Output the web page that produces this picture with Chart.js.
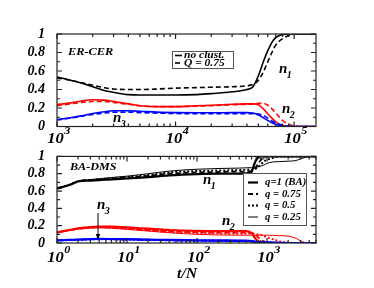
<!DOCTYPE html>
<html><head><meta charset="utf-8">
<script src="https://cdn.jsdelivr.net/npm/chart.js@4/dist/chart.umd.min.js"></script>
<style>
html,body{margin:0;padding:0;background:#fff;}
#wrap{position:relative;width:374px;height:288px;overflow:hidden;}
canvas{position:absolute;left:0;}
#c1{top:0;} #c2{top:144px;}
</style></head><body>
<div id="wrap"><canvas id="c1" width="374" height="144"></canvas><canvas id="c2" width="374" height="144"></canvas></div>
<script>
// ---------- TOP PANEL (ER-CER) ----------
const topT = [1000,1300,1600,2000,2500,3000,4000,5000,7000,10000,15000,20000,30000,40000,45000,50000,55000,60000,65000,70000,80000,90000,100000,120000,150000];
const topN1NoClust = [0.535,0.50,0.47,0.43,0.39,0.37,0.345,0.34,0.34,0.34,0.345,0.355,0.375,0.40,0.43,0.55,0.70,0.82,0.91,0.96,0.995,1.0,1.0,1.0,1.0];
const topN1Q075   = [0.525,0.50,0.475,0.445,0.42,0.405,0.40,0.40,0.405,0.415,0.42,0.425,0.43,0.44,0.455,0.50,0.59,0.70,0.80,0.88,0.95,0.985,1.0,1.0,1.0];
const topN2NoClust = [0.235,0.255,0.275,0.29,0.285,0.27,0.245,0.225,0.215,0.215,0.225,0.23,0.24,0.245,0.245,0.235,0.19,0.135,0.09,0.05,0.012,0,0,0,0];
const topN2Q075   = [0.225,0.245,0.26,0.27,0.27,0.26,0.24,0.225,0.215,0.215,0.22,0.225,0.235,0.24,0.245,0.25,0.25,0.23,0.19,0.145,0.065,0.025,0.005,0,0];
const topN3NoClust = [0.075,0.095,0.115,0.14,0.16,0.17,0.17,0.165,0.155,0.15,0.148,0.148,0.15,0.15,0.145,0.125,0.095,0.065,0.04,0.022,0.006,0,0,0,0];
const topN3Q075   = [0.07,0.09,0.11,0.13,0.145,0.155,0.155,0.15,0.145,0.14,0.138,0.138,0.138,0.138,0.138,0.135,0.12,0.09,0.06,0.035,0.012,0.003,0,0,0];
const topXMin = 1000, topXMax = 153000;
const topXTickVals = [1e3,1e4,1e5];
const topXTickLabels = [['10','3'],['10','4'],['10','5']];
const topSeriesLabels = ['no clust.','Q = 0.75'];

// ---------- BOTTOM PANEL (BA-DMS) ----------
const botT = [1,1.5,2,3,4,6,10,20,40,100,200,400,500,600,650,700,800,900,1000,1200,1500,2000,2500,3000,3500,4000,5000];
const botN1q100 = [0.63,0.67,0.71,0.72,0.725,0.735,0.745,0.76,0.78,0.795,0.80,0.80,0.805,0.82,0.90,0.96,1,1,1,1,1,1,1,1,1,1,1];
const botN1q075 = [0.63,0.67,0.712,0.725,0.732,0.742,0.755,0.775,0.80,0.815,0.82,0.825,0.825,0.83,0.845,0.88,0.95,0.99,1,1,1,1,1,1,1,1,1];
const botN1q050 = [0.63,0.672,0.714,0.728,0.737,0.748,0.762,0.785,0.815,0.832,0.838,0.842,0.845,0.848,0.852,0.86,0.90,0.94,0.96,0.98,1,1,1,1,1,1,1];
const botN1q025 = [0.63,0.673,0.716,0.732,0.742,0.756,0.772,0.80,0.83,0.852,0.86,0.865,0.868,0.87,0.872,0.875,0.885,0.90,0.92,0.935,0.94,0.945,0.95,0.97,0.99,1,1];
const botN2q100 = [0.122,0.15,0.168,0.185,0.19,0.188,0.18,0.165,0.15,0.14,0.138,0.138,0.138,0.115,0.075,0.04,0.005,0,0,0,0,0,0,0,0,0,0];
const botN2q075 = [0.122,0.148,0.165,0.18,0.183,0.18,0.17,0.15,0.135,0.125,0.12,0.12,0.12,0.118,0.105,0.085,0.045,0.015,0,0,0,0,0,0,0,0,0];
const botN2q050 = [0.122,0.147,0.163,0.177,0.18,0.176,0.165,0.145,0.128,0.115,0.11,0.108,0.108,0.108,0.106,0.104,0.095,0.08,0.065,0.045,0.02,0.005,0,0,0,0,0];
const botN2q025 = [0.122,0.146,0.16,0.172,0.175,0.17,0.158,0.138,0.118,0.10,0.093,0.09,0.09,0.09,0.09,0.09,0.09,0.09,0.09,0.088,0.085,0.078,0.06,0.025,0.005,0,0];
const botN3q100 = [0.03,0.035,0.04,0.045,0.047,0.046,0.044,0.04,0.035,0.032,0.03,0.028,0.028,0.022,0.012,0.005,0,0,0,0,0,0,0,0,0,0,0];
const botN3q075 = [0.03,0.035,0.039,0.043,0.045,0.044,0.042,0.038,0.033,0.029,0.027,0.025,0.025,0.023,0.018,0.012,0.004,0,0,0,0,0,0,0,0,0,0];
const botN3q050 = [0.03,0.034,0.038,0.042,0.043,0.042,0.04,0.035,0.03,0.026,0.024,0.022,0.022,0.021,0.02,0.018,0.012,0.007,0.003,0,0,0,0,0,0,0,0];
const botN3q025 = [0.03,0.034,0.037,0.04,0.041,0.04,0.038,0.033,0.028,0.024,0.021,0.019,0.019,0.019,0.019,0.018,0.018,0.017,0.016,0.014,0.01,0.005,0.001,0,0,0,0];
const botXMin = 1, botXMax = 5000;
const botXTickVals = [1,10,100,1000];
const botXTickLabels = [['10','0'],['10','1'],['10','2'],['10','3']];
const botSeriesLabels = ['q=1 (BA)','q = 0.75','q = 0.5','q = 0.25'];

// shared y ticks
const yTickLabels = ['0','0.2','0.4','0.6','0.8','1'];

// ---------- drawing helpers ----------
const FAM = "'Liberation Serif','Times New Roman',serif";
const fnt = s => `italic bold ${s}px ${FAM}`;
const BLACK='#000', RED='#ff0000', BLUE='#0000ff';

function ds(t, vals, color, width, dash, label){
  return {label: label||'', data: t.map((x,i)=>({x:x, y:vals[i]})), borderColor: color,
    borderWidth: width, borderDash: dash||[], pointRadius: 0, fill: false,
    cubicInterpolationMode: 'monotone', borderCapStyle:'butt'};
}

// draw text horizontally stretched by sx
function sText(ctx, t, x, y, sx){
  ctx.save(); ctx.translate(x, y); ctx.scale(sx, 1); ctx.fillText(t, 0, 0); ctx.restore();
}

const deco = {
  id: 'deco',
  afterDraw(chart, args, o){
    const ctx = chart.ctx, ca = chart.chartArea, xs = chart.scales.x, ys = chart.scales.y;
    ctx.save();
    // frame and inward ticks
    ctx.strokeStyle = '#222'; ctx.lineWidth = 1.2; ctx.setLineDash([]);
    ctx.strokeRect(ca.left, ca.top, ca.right-ca.left, ca.bottom-ca.top);
    ctx.beginPath();
    const lo = Math.floor(Math.log10(xs.min)), hi = Math.ceil(Math.log10(xs.max));
    for (let d=lo; d<=hi; d++) for (let k=1;k<10;k++){
      const v = k*Math.pow(10,d);
      if (v < xs.min*0.999 || v > xs.max*1.001) continue;
      const p = xs.getPixelForValue(v), L = k===1?5:3;
      ctx.moveTo(p, ca.bottom); ctx.lineTo(p, ca.bottom-L);
      ctx.moveTo(p, ca.top); ctx.lineTo(p, ca.top+L);
    }
    for (let i=0;i<=10;i++){
      const p = ys.getPixelForValue(i/10), L = i%2===0?5:3;
      ctx.moveTo(ca.left, p); ctx.lineTo(ca.left+L, p);
      ctx.moveTo(ca.right, p); ctx.lineTo(ca.right-L, p);
    }
    ctx.stroke();
    // x tick labels with superscripts
    ctx.fillStyle = '#000'; ctx.textAlign = 'left'; ctx.textBaseline = 'alphabetic';
    o.xTicks.forEach((v,i)=>{
      const p = xs.getPixelForValue(v), b = o.xLabels[i][0], e = o.xLabels[i][1];
      ctx.font = fnt(15); const wb = ctx.measureText(b).width*1.1;
      ctx.font = fnt(11); const we = ctx.measureText(e).width*1.1;
      const x0 = p - (wb+we)/2 + 1.5;
      ctx.font = fnt(15); sText(ctx, b, x0, o.xBase, 1.1);
      ctx.font = fnt(11); sText(ctx, e, x0+wb+0.5, o.xBase-9.5, 1.1);
    });
    // panel texts
    (o.texts||[]).forEach(t=>{ ctx.font = fnt(t.s); sText(ctx, t.t, t.x, t.y, t.sx||1.1); });
    // n labels with subscripts
    (o.nlabels||[]).forEach(t=>{
      ctx.font = fnt(15); ctx.fillText('n', t.x, t.y);
      const w = ctx.measureText('n').width;
      ctx.font = fnt(10); ctx.fillText(t.sub, t.x+w-0.5, t.y+5);
    });
    // arrow
    if (o.arrow){
      const a = o.arrow;
      ctx.strokeStyle='#000'; ctx.lineWidth=1; ctx.beginPath();
      ctx.moveTo(a[0],a[1]); ctx.lineTo(a[2],a[3]-4); ctx.stroke();
      ctx.beginPath(); ctx.moveTo(a[2],a[3]); ctx.lineTo(a[2]-2.2,a[3]-6); ctx.lineTo(a[2]+2.2,a[3]-6); ctx.closePath(); ctx.fill();
    }
    // legend
    if (o.legend){
      const L = o.legend;
      ctx.fillStyle='#fff'; ctx.fillRect(L.box[0],L.box[1],L.box[2],L.box[3]);
      ctx.strokeStyle='#555'; ctx.lineWidth=1; ctx.setLineDash([]);
      ctx.strokeRect(L.box[0]+0.5,L.box[1]+0.5,L.box[2],L.box[3]);
      L.items.forEach((idx,j)=>{
        const d = chart.data.datasets[idx], y = L.rowY[j];
        ctx.strokeStyle = '#000'; ctx.lineWidth = d.borderWidth; ctx.setLineDash(d.borderDash||[]);
        ctx.beginPath(); ctx.moveTo(L.lineX[0], y); ctx.lineTo(L.lineX[1], y); ctx.stroke();
        ctx.setLineDash([]);
        ctx.fillStyle='#000'; ctx.font = fnt(L.fs); ctx.textBaseline='middle';
        sText(ctx, d.label, L.textX, y, L.sx);
        ctx.textBaseline='alphabetic';
      });
    }
    ctx.restore();
  }
};

function makeChart(id, datasets, xMin, xMax, pad, xH, decoOpts){
  return new Chart(document.getElementById(id), {
    type: 'line',
    data: { datasets: datasets },
    options: {
      responsive: false, animation: false, devicePixelRatio: 1,
      layout: { padding: pad },
      plugins: { legend: {display:false}, tooltip: {enabled:false}, deco: decoOpts },
      scales: {
        x: { type:'logarithmic', min:xMin, max:xMax, grid:{display:false}, border:{display:false},
             ticks:{display:false}, afterFit(s){ s.height = xH; } },
        y: { min:0, max:1, grid:{display:false}, border:{display:false},
             ticks:{stepSize:0.2, autoSkip:false, color:'#000', padding:4,
                    font:{family:FAM, size:14, style:'italic', weight:'bold'},
                    callback:(v,i)=> yTickLabels[i]},
             afterFit(s){ s.width = 57; } }
      }
    },
    plugins: [deco]
  });
}

// top chart
makeChart('c1', [
  ds(topT, topN3NoClust, BLUE, 1.6, [], ''),
  ds(topT, topN3Q075, BLUE, 1.6, [5,3], ''),
  ds(topT, topN2NoClust, RED, 1.6, [], ''),
  ds(topT, topN2Q075, RED, 1.6, [5,3], ''),
  ds(topT, topN1NoClust, BLACK, 1.6, [], topSeriesLabels[0]),
  ds(topT, topN1Q075, BLACK, 1.6, [5,3], topSeriesLabels[1])
], topXMin, topXMax, {top:34, right:58, left:0, bottom:0}, 17.5, {
  xTicks: topXTickVals, xLabels: topXTickLabels, xBase: 143,
  texts: [{t:'ER-CER', x:68, y:55, s:11, sx:1.12}],
  nlabels: [{sub:'1', x:279, y:73},{sub:'2', x:282, y:113},{sub:'3', x:113, y:122}],
  legend: {box:[172,51,61,17], items:[4,5], rowY:[55.5,63], lineX:[175,182], textX:184, fs:10, sx:1.15}
});

// bottom chart
makeChart('c2', [
  ds(botT, botN3q025, BLUE, 1, [], ''),
  ds(botT, botN3q050, BLUE, 1.8, [2,2], ''),
  ds(botT, botN3q075, BLUE, 1.8, [5,3], ''),
  ds(botT, botN3q100, BLUE, 2.2, [], ''),
  ds(botT, botN2q025, RED, 1, [], ''),
  ds(botT, botN2q050, RED, 1.8, [2,2], ''),
  ds(botT, botN2q075, RED, 1.8, [5,3], ''),
  ds(botT, botN2q100, RED, 2.2, [], ''),
  ds(botT, botN1q100, BLACK, 2.2, [], botSeriesLabels[0]),
  ds(botT, botN1q075, BLACK, 1.8, [5,3], botSeriesLabels[1]),
  ds(botT, botN1q050, BLACK, 1.8, [2,2], botSeriesLabels[2]),
  ds(botT, botN1q025, BLACK, 1, [], botSeriesLabels[3])
], botXMin, botXMax, {top:9, right:58, left:0, bottom:0}, 45, {
  xTicks: botXTickVals, xLabels: botXTickLabels, xBase: 118,
  texts: [{t:'BA-DMS', x:70, y:25.7, s:11, sx:1.1}, {t:'t/N', x:177, y:134, s:15, sx:1.05}],
  nlabels: [{sub:'1', x:203, y:40},{sub:'2', x:222, y:81},{sub:'3', x:97, y:65}],
  arrow: [98, 69, 98, 96],
  legend: {box:[243,29,63,52], items:[8,9,10,11], rowY:[38.5,50,61.5,73], lineX:[248,258], textX:265, fs:10, sx:1.08}
});
</script>
</body></html>
